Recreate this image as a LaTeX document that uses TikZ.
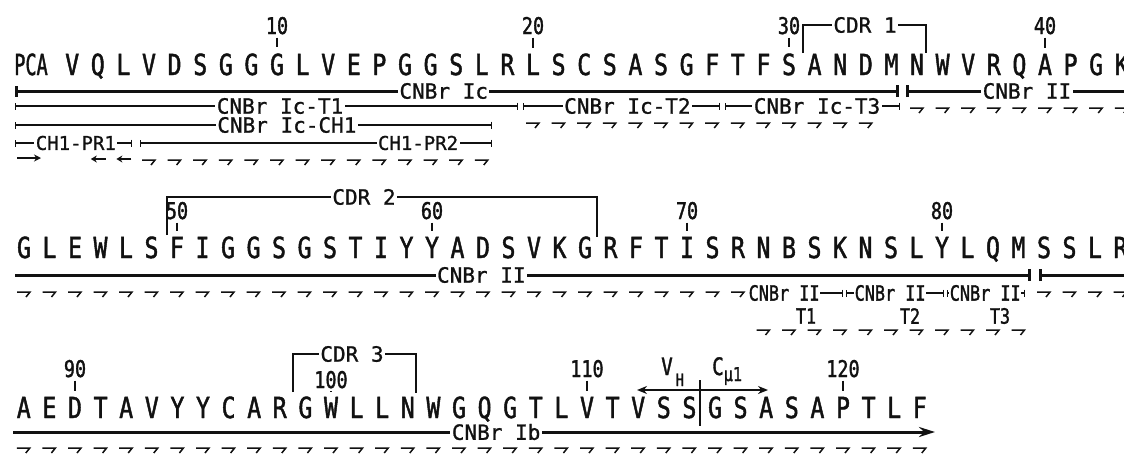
\documentclass[tikz,border=0pt]{standalone}
\usepackage{fontspec}
\usepackage{graphicx}
\usepackage{tikz}
\usetikzlibrary{arrows.meta,calc}
\newfontfamily\seqfont[FakeStretch=0.8,FakeBold=1.5]{DejaVu Sans Mono}
\newfontfamily\labfont[FakeBold=1]{DejaVu Sans Mono}
\definecolor{inkmain}{HTML}{111111}
\tikzset{
  res/.style={font=\seqfont\fontsize{29}{29}\selectfont,inner sep=1pt,anchor=base,text=inkmain},
  num/.style={font=\seqfont\fontsize{23}{23}\selectfont,inner sep=1pt,anchor=base,text=inkmain},
  frag/.style={font=\labfont\fontsize{21}{21}\selectfont,fill=white,inner sep=1.5pt,text=inkmain},
  fragp/.style={frag,font=\labfont\fontsize{19}{19}\selectfont},
  fragc/.style={frag,font=\seqfont\fontsize{21}{21}\selectfont,inner sep=0.5pt},
  vlbl/.style={font=\seqfont\fontsize{24}{24}\selectfont,inner sep=0pt,anchor=base west,text=inkmain},
  seqheavy/.style={line width=3pt,draw=inkmain},
  seqlight/.style={line width=1.3pt,draw=inkmain},
  segbar/.style={arrows={Bar[width=7pt]-Bar[width=7pt]}},
  numtick/.style={line width=1.2pt,draw=inkmain,shorten <=2pt,shorten >=5pt},
  hookr/.pic={\draw[line width=1.5pt,inkmain] (-7,0) -- (6,0) -- (2,5);},
  hookl/.pic={\draw[line width=1.5pt,inkmain,-{Stealth[length=6pt,width=7pt]}] (8,0) -- (-7,0);},
}
\begin{document}
\begin{tikzpicture}[x=1pt,y=-1pt,>=Stealth]
  \useasboundingbox (0,0) rectangle (1124,453);
  % first line: residues 1-43
  \node[res] (a1) at (31,75) {\scalebox{0.8}[1]{PCA}};
  \foreach \r [count=\i from 2] in {V,Q,L,V,D,S,G,G,G,L,V,E,P,G,G,S,L,R,L,S,C,S,A,S,G,F,T,F,S,A,N,D,M,N,W,V,R,Q,A,P,G,K}
    \node[res] (a\i) at ({277+(\i-10)*25.6},75) {\r};
  \foreach \n in {10,20,30,40} {
    \node[num] (n\n) at (a\n |- 0,34) {\n};
    \draw[numtick] (n\n) -- (a\n);
  }
  \node[frag] (cdr1) at (865,25) {CDR 1};
  \coordinate (cdr1a) at (803,53);
  \coordinate (cdr1b) at (926,53);
  \draw[seqlight] (cdr1a) |- (cdr1.west);
  \draw[seqlight] (cdr1.east) -| (cdr1b);

  \coordinate (h1a) at (15,91);
  \coordinate (h1b) at (899,91);
  \coordinate (h1c) at (906,91);
  \coordinate (h1d) at (1130,91);
  \draw[seqheavy,arrows={Bar[width=11pt]-Bar[width=12pt]}] (h1a) -- node[frag,pos=.485] (lIc) {CNBr Ic} (h1b);
  \draw[seqheavy,arrows={Bar[width=12pt]-}] (h1c) -- node[frag,pos=.54] (lII) {CNBr II} (h1d);

  \coordinate (t1a) at (15,106);
  \coordinate (t1b) at (518,106);
  \coordinate (t2a) at (523,106);
  \coordinate (t2b) at (720,106);
  \coordinate (t3a) at (725,106);
  \coordinate (t3b) at (900,106);
  \draw[seqlight,segbar] (t1a) -- node[frag,pos=.527] (lT1) {CNBr Ic-T1} (t1b);
  \draw[seqlight,segbar] (t2a) -- node[frag,pos=.53] (lT2) {CNBr Ic-T2} (t2b);
  \draw[seqlight,segbar] (t3a) -- node[frag,pos=.526] (lT3) {CNBr Ic-T3} (t3b);

  \coordinate (ch1a) at (15,125);
  \coordinate (ch1b) at (492,125);
  \draw[seqlight,segbar] (ch1a) -- node[frag,pos=.57] (lCH1) {CNBr Ic-CH1} (ch1b);

  \coordinate (pr1a) at (15,143);
  \coordinate (pr1b) at (132,143);
  \coordinate (pr2a) at (140,143);
  \coordinate (pr2b) at (492,143);
  \draw[seqlight,segbar] (pr1a) -- node[fragp,pos=.52] (lPR1) {CH1-PR1} (pr1b);
  \draw[seqlight,segbar] (pr2a) -- node[fragp,pos=.79] (lPR2) {CH1-PR2} (pr2b);

  \coordinate (ed1a) at (17,158);
  \coordinate (ed1b) at (41,158);
  \draw[line width=1.5pt,inkmain,-{Stealth[length=7pt,width=7pt]}] (ed1a) -- (ed1b);
  \foreach \i in {3,4} \pic at (a\i |- 0,159) {hookl};
  \foreach \i in {5,...,18} \pic at (a\i |- 0,160) {hookr};
  \foreach \i in {20,...,33} \pic at (a\i |- 0,123) {hookr};
  \foreach \i in {35,...,43} \pic at (a\i |- 0,108) {hookr};

  % second line: residues 44-87
  \foreach \r [count=\i from 44] in {G,L,E,W,L,S,F,I,G,G,S,G,S,T,I,Y,Y,A,D,S,V,K,G,R,F,T,I,S,R,N,B,S,K,N,S,L,Y,L,Q,M,S,S,L,R}
    \node[res] (a\i) at ({177+(\i-50)*25.5},258) {\r};
  \foreach \n in {50,60,70,80} {
    \node[num] (n\n) at (a\n |- 0,219) {\n};
    \draw[numtick] (n\n) -- (a\n);
  }
  \node[frag] (cdr2) at (364,197) {CDR 2};
  \coordinate (cdr2a) at (167,235);
  \coordinate (cdr2b) at (597,237);
  \draw[seqlight] (cdr2a) |- (cdr2.west);
  \draw[seqlight] (cdr2.east) -| (cdr2b);

  \coordinate (h2a) at (15,275);
  \coordinate (h2b) at (1031,275);
  \coordinate (h2c) at (1039,275);
  \coordinate (h2d) at (1130,275);
  \draw[seqheavy,arrows={-Bar[width=12pt]}] (h2a) -- node[frag,pos=.459] (lII2) {CNBr II} (h2b);
  \draw[seqheavy,arrows={Bar[width=12pt]-}] (h2c) -- (h2d);

  \coordinate (u1a) at (748,293);
  \coordinate (u1b) at (843,293);
  \coordinate (u2a) at (846,293);
  \coordinate (u2b) at (944,293);
  \coordinate (u3a) at (947,293);
  \coordinate (u3b) at (1025,293);
  \draw[seqlight,segbar] (u1a) -- node[fragc,pos=.38] (lU1) {CNBr II} (u1b);
  \draw[seqlight,segbar] (u2a) -- node[fragc,pos=.45] (lU2) {CNBr II} (u2b);
  \draw[seqlight,segbar] (u3a) -- node[fragc,pos=.49] (lU3) {CNBr II} (u3b);
  \node[fragc,fill=none] (tt1) at (806,316) {T1};
  \node[fragc,fill=none] (tt2) at (910,316) {T2};
  \node[fragc,fill=none] (tt3) at (1000,316) {T3};

  \foreach \i in {44,...,72} \pic at (a\i |- 0,292) {hookr};
  \foreach \i in {84,...,87} \pic at (a\i |- 0,292) {hookr};
  \foreach \i in {73,...,83} \pic at (a\i |- 0,330) {hookr};

  % third line: residues 88-123
  \foreach \r [count=\i from 88] in {A,E,D,T,A,V,Y,Y,C,A,R,G,W,L,L,N,W,G,Q,G,T,L,V,T,V,S,S,G,S,A,S,A,P,T,L,F}
    \node[res] (a\i) at ({75+(\i-90)*25.6},418) {\r};
  \foreach \n/\yb in {90/377,100/388,110/377,120/377} {
    \node[num] (n\n) at (a\n |- 0,\yb) {\n};
    \draw[numtick] (n\n) -- (a\n);
  }
  \node[frag] (cdr3) at (352,354) {CDR 3};
  \coordinate (cdr3a) at (293,392);
  \coordinate (cdr3b) at (416,393);
  \draw[seqlight] (cdr3a) |- (cdr3.west);
  \draw[seqlight] (cdr3.east) -| (cdr3b);

  \coordinate (h3a) at (13,432);
  \coordinate (h3b) at (935,432);
  \draw[seqheavy,-{Stealth[length=16pt,width=10pt]}] (h3a) -- node[frag,pos=.524] (lIb) {CNBr Ib} (h3b);
  \foreach \i in {88,...,123} \pic at (a\i |- 0,448) {hookr};

  \coordinate (jtop) at (700,380);
  \coordinate (jbot) at (700,426);
  \coordinate (jmid) at (700,390);
  \coordinate (vhend) at (637,390);
  \coordinate (cmend) at (768,390);
  \draw[line width=1.8pt,inkmain] (jtop) -- (jbot);
  \draw[line width=1.8pt,inkmain,-{Stealth[length=10pt,width=8pt]}] (jmid) -- (vhend);
  \draw[line width=1.8pt,inkmain,-{Stealth[length=10pt,width=8pt]}] (jmid) -- (cmend);
  \node[vlbl] (lvh) at (661,375) {V\kern3pt\raisebox{-11pt}{\fontsize{17}{17}\selectfont H}};
  \node[vlbl] (lcm) at (712,375) {C\raisebox{-6pt}{\fontsize{19}{19}\selectfont μ1}};
\end{tikzpicture}
\end{document}
